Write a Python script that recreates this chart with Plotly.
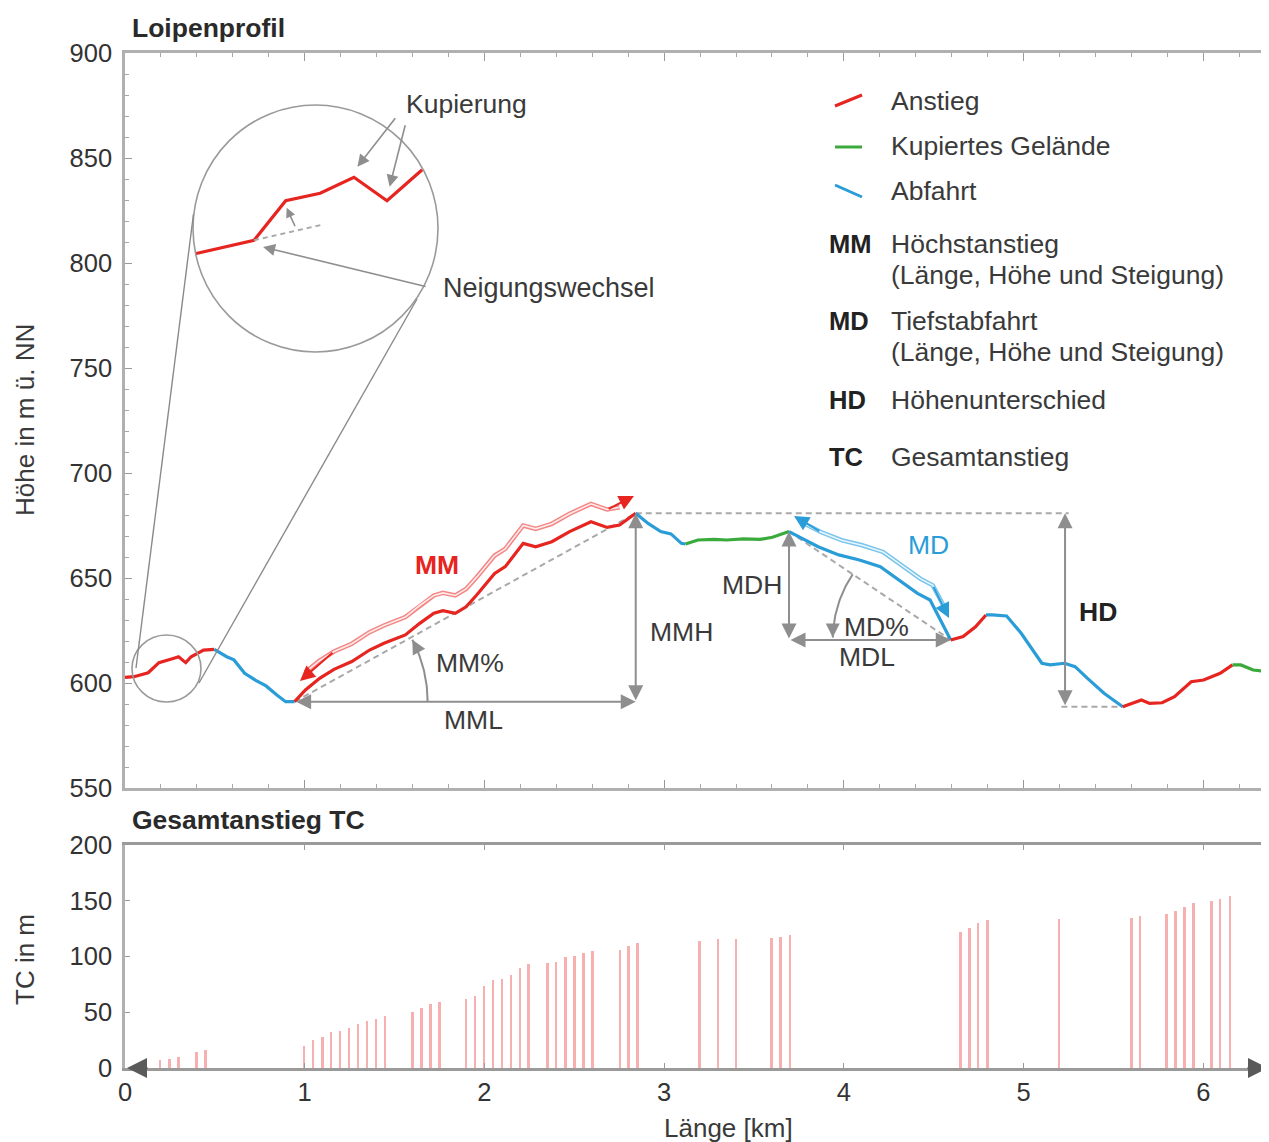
import math
import plotly.graph_objects as go

# ---------------- data ----------------
profile_km = [0.000, 0.050, 0.129, 0.189, 0.268, 0.298, 0.338, 0.368, 0.437, 0.497,
              0.566, 0.606, 0.666, 0.725, 0.785, 0.845, 0.894, 0.944,
              1.004, 1.083, 1.163, 1.262, 1.361, 1.441, 1.560, 1.640, 1.719, 1.769, 1.838, 1.898, 1.957,
              2.057, 2.116, 2.216, 2.285, 2.375, 2.474, 2.593, 2.683, 2.752, 2.842,
              2.911, 2.981, 3.038, 3.096, 3.119,
              3.188, 3.280, 3.349, 3.442, 3.534, 3.603, 3.695,
              3.765, 3.857, 3.972, 4.087, 4.203, 4.318, 4.410, 4.480, 4.549, 4.595,
              4.664, 4.733, 4.791,
              4.826, 4.906, 4.987, 5.102, 5.148, 5.229, 5.287, 5.356, 5.448, 5.552,
              5.610, 5.656, 5.702, 5.771, 5.840, 5.933, 6.002, 6.094, 6.163,
              6.209, 6.278, 6.366]
profile_m = [602.7, 603.0, 604.9, 609.7, 611.7, 612.5, 609.7, 612.5, 615.7, 616.0,
             612.5, 611.0, 604.6, 601.4, 598.6, 594.3, 591.1, 591.1,
             596.7, 602.2, 606.5, 610.2, 615.7, 618.9, 622.9, 628.4, 633.2, 634.4, 633.2, 636.3, 641.9,
             652.2, 655.4, 666.5, 664.9, 667.3, 672.1, 676.8, 674.1, 675.2, 680.8,
             676.0, 672.1, 671.0, 666.5, 666.2,
             668.1, 668.4, 668.1, 668.6, 668.4, 669.4, 672.1,
             668.9, 664.9, 661.0, 658.6, 655.4, 648.3, 642.7, 639.5, 628.4, 620.5,
             622.1, 626.8, 632.4,
             632.4, 631.9, 623.7, 609.4, 608.6, 609.4, 607.8, 602.2, 595.1, 588.7,
             590.6, 591.9, 590.3, 590.6, 593.5, 600.6, 601.4, 604.6, 608.6,
             608.6, 606.2, 605.4]

class_break_km = [0.0, 0.497, 0.944, 2.842, 3.119, 3.695, 4.595, 4.791, 5.552, 6.163, 6.366]
class_name = ["Anstieg", "Abfahrt", "Anstieg", "Abfahrt", "Kupiertes Gelände",
              "Abfahrt", "Anstieg", "Abfahrt", "Anstieg", "Kupiertes Gelände"]

mm_range_km = [0.944, 2.842]   # Höchstanstieg
md_range_km = [3.695, 4.595]   # Tiefstabfahrt
hd_arrow_km = 5.231            # position of the HD arrow

# magnified detail (inset), distance in m / height in m
detail_dist_m = [3, 85, 129, 177, 224, 270, 319]
detail_elev_m = [611.7, 613.3, 618.0, 618.9, 620.8, 618.0, 621.7]

tc_km = [0.197, 0.25, 0.30, 0.40, 0.449,
         0.998, 1.047, 1.101, 1.149, 1.197, 1.248, 1.298, 1.349, 1.399, 1.447,
         1.602, 1.652, 1.701, 1.751,
         1.90, 1.95, 2.0, 2.049, 2.098, 2.148, 2.198, 2.248,
         2.353, 2.401, 2.452, 2.502, 2.552, 2.602,
         2.755, 2.804, 2.854,
         3.199, 3.30, 3.40,
         3.598, 3.648, 3.701,
         4.65, 4.70, 4.749, 4.80,
         5.20,
         5.602, 5.65,
         5.797, 5.848, 5.897, 5.947,
         6.048, 6.095, 6.149]
tc_m = [7.2, 8.1, 9.6, 14.1, 16.1,
        20, 25.1, 27.5, 32, 33.5, 35.6, 39.2, 42.2, 44.2, 46.6,
        50.5, 54.1, 57.1, 58.9,
        61.6, 64.6, 73.5, 78.9, 79.5, 83.4, 90, 93,
        93.9, 95.1, 99.2, 100.8, 102.8, 104.9,
        105.8, 109.4, 111.8,
        114.2, 115.4, 116,
        116.9, 117.8, 119,
        121.7, 125.3, 130.3, 132.7,
        133.3,
        134.8, 136.3,
        138.1, 140.8, 144.7, 148.3,
        149.8, 151.3, 154.6]

x_ticks = [0, 1, 2, 3, 4, 5, 6]

# ---------------- layout geometry (page pixels) ----------------
PAGE_OFF = 8                       # default body margin of the html page
W_FIG, H_FIG = 1269 - PAGE_OFF, 1142 - PAGE_OFF
PLOT_L, PLOT_R, PLOT_T, PLOT_B = 125, 1269, 53, 1068   # plot area in page pixels
PW = PLOT_R - PLOT_L
PH = PLOT_B - PLOT_T
XMAX = 6.366
TOP_Y0_PX, TOP_Y1_PX = 788, 53    # page rows of 550 m / 900 m
BOT_Y0_PX, BOT_Y1_PX = 1068, 845  # page rows of 0 / 200

def X(px):
    return (px - PLOT_L) / PW * XMAX

def Y(py):
    return 550 + (TOP_Y0_PX - py) / (TOP_Y0_PX - TOP_Y1_PX) * 350

def QX(km):
    return PLOT_L + km / XMAX * PW

def QY(m):
    return TOP_Y0_PX - (m - 550) / 350 * (TOP_Y0_PX - TOP_Y1_PX)

def PX(px):
    return (px - PLOT_L) / PW

def PY(py):
    return (PLOT_B - py) / PH

RED = "#e62420"
GREEN = "#3aaa3c"
BLUE = "#2a9dd8"
GRAY = "#8e8e8e"
DASH = "#a9a9a9"
TXT = "#3a3a3a"
FONT = "Liberation Sans, Arial, sans-serif"
COLORS = {"Anstieg": RED, "Kupiertes Gelände": GREEN, "Abfahrt": BLUE}
FS = 26.5    # annotation font size
FS_TICK = 25.5

fig = go.Figure()

def pts_between(a, b):
    xs, ys = [], []
    for k, m in zip(profile_km, profile_m):
        if a - 1e-9 <= k <= b + 1e-9:
            xs.append(k)
            ys.append(m)
    return xs, ys

# ---------- offset (double) lines for MM / MD ----------
def offset_line(a, b, dx, dy, outer, inner, skip_first=1, skip_last=0):
    xs, ys = pts_between(a, b)
    xs = [x + dx for x in xs][skip_first:len(xs) - skip_last]
    ys = [y + dy for y in ys][skip_first:len(ys) - skip_last]
    fig.add_trace(go.Scatter(x=xs, y=ys, mode="lines", line=dict(color=outer, width=4.5),
                             hoverinfo="skip", xaxis="x", yaxis="y"))
    fig.add_trace(go.Scatter(x=xs, y=ys, mode="lines", line=dict(color=inner, width=1.6),
                             hoverinfo="skip", xaxis="x", yaxis="y"))
    return xs, ys

mm_off_x, mm_off_y = offset_line(mm_range_km[0], mm_range_km[1], 0.0, 8.5, "#f38583", "#fdeaea", 1, 1)
md_off_x, md_off_y = offset_line(md_range_km[0], md_range_km[1], 0.015, 7.0, "#79c4ec", "#e8f6fd", 1, 1)

# ---------- profile segments ----------
for i, name in enumerate(class_name):
    xs, ys = pts_between(class_break_km[i], class_break_km[i + 1])
    fig.add_trace(go.Scatter(x=xs, y=ys, mode="lines",
                             line=dict(color=COLORS[name], width=3.2),
                             hoverinfo="skip", xaxis="x", yaxis="y"))

# ---------- arcs (angle markers) ----------
mmx, mmy = pts_between(*mm_range_km)
mdx, mdy = pts_between(*md_range_km)
mm_x0, mm_y0, mm_x1, mm_y1 = mmx[0], mmy[0], mmx[-1], mmy[-1]
md_x0, md_y0, md_x1, md_y1 = mdx[0], mdy[0], mdx[-1], mdy[-1]

def arc(cx_km, cy_m, r_px, th0, th1, n=40):
    cx, cy = QX(cx_km), QY(cy_m)
    xs, ys = [], []
    for j in range(n + 1):
        th = th0 + (th1 - th0) * j / n
        xs.append(X(cx + r_px * math.cos(th)))
        ys.append(Y(cy - r_px * math.sin(th)))
    return xs, ys

ang_mm = math.atan2(QY(mm_y0) - QY(mm_y1), QX(mm_x1) - QX(mm_x0))
ax_, ay_ = arc(mm_x0, mm_y0, 133, 0.0, ang_mm - 0.02)
fig.add_trace(go.Scatter(x=ax_, y=ay_, mode="lines", line=dict(color=GRAY, width=2),
                         hoverinfo="skip", xaxis="x", yaxis="y"))
ang_md = math.pi - math.atan2(QY(md_y1) - QY(md_y0), QX(md_x1) - QX(md_x0))
dx_, dy_ = arc(md_x1, md_y1, 118, ang_md, math.pi - 0.02)
fig.add_trace(go.Scatter(x=dx_, y=dy_, mode="lines", line=dict(color=GRAY, width=2),
                         hoverinfo="skip", xaxis="x", yaxis="y"))

# ---------- inset detail ----------
fig.add_trace(go.Scatter(x=detail_dist_m, y=detail_elev_m, mode="lines",
                         line=dict(color=RED, width=3.2), hoverinfo="skip",
                         xaxis="x3", yaxis="y3"))
slope0 = (detail_elev_m[1] - detail_elev_m[0]) / (detail_dist_m[1] - detail_dist_m[0])
ext_x = [detail_dist_m[1], detail_dist_m[1] + 95]
ext_y = [detail_elev_m[1], detail_elev_m[1] + slope0 * 95]
fig.add_trace(go.Scatter(x=ext_x, y=ext_y, mode="lines",
                         line=dict(color=DASH, width=2, dash="5px,4px"), hoverinfo="skip",
                         xaxis="x3", yaxis="y3"))

# ---------- bars (TC) ----------
fig.add_trace(go.Bar(x=tc_km, y=tc_m, width=0.011, marker=dict(color="#f7b0b0", line=dict(width=0)),
                     hoverinfo="skip", xaxis="x2", yaxis="y2"))

# ---------- shapes ----------
shapes = []
def dline(x0, y0, x1, y1, xref="x", yref="y", color=DASH, width=2, dash="6px,4px", layer="below"):
    shapes.append(dict(type="line", x0=x0, y0=y0, x1=x1, y1=y1, xref=xref, yref=yref,
                       line=dict(color=color, width=width, dash=dash), layer=layer))

dline(mm_x0, mm_y0, mm_x1, mm_y1)
dline(md_x0, md_y0, md_x1, md_y1)
hd_max = max(profile_m[10:])
hd_min_i = min(range(10, len(profile_m)), key=lambda i: profile_m[i])
dline(mm_x1, hd_max, hd_arrow_km + 0.02, hd_max)
dline(hd_arrow_km - 0.02, profile_m[hd_min_i], profile_km[hd_min_i], profile_m[hd_min_i])

# magnifier circles and connecting lines
shapes.append(dict(type="circle", xref="paper", yref="paper",
                   x0=PX(193), x1=PX(438), y0=PY(352), y1=PY(105),
                   line=dict(color="#9a9a9a", width=1.6), layer="above"))
shapes.append(dict(type="circle", xref="paper", yref="paper",
                   x0=PX(132), x1=PX(201), y0=PY(702), y1=PY(635),
                   line=dict(color="#9a9a9a", width=1.6), layer="above"))
dline(PX(136), PY(668), PX(193.5), PY(214), "paper", "paper", "#8a8a8a", 1.4, "solid", "above")
dline(PX(199), PY(683), PX(417), PY(299), "paper", "paper", "#8a8a8a", 1.4, "solid", "above")

# legend samples
dline(PX(835), PY(106), PX(862), PY(95), "paper", "paper", RED, 3, "solid", "above")
dline(PX(835), PY(147), PX(862), PY(147), "paper", "paper", GREEN, 3, "solid", "above")
dline(PX(835), PY(185), PX(862), PY(197), "paper", "paper", BLUE, 3, "solid", "above")

# ---------- annotations ----------
ann = []
def arrow(x, y, ax, ay, xref="x", yref="y", axref=None, ayref=None, color=GRAY,
          width=2, size=1.5, both=False, head=2):
    d = dict(x=x, y=y, ax=ax, ay=ay, xref=xref, yref=yref,
             axref=axref or xref, ayref=ayref or yref, showarrow=True, text="",
             arrowhead=head, arrowsize=size, arrowwidth=width, arrowcolor=color, standoff=0)
    if both:
        d.update(arrowside="end+start", startarrowhead=head, startarrowsize=size, startstandoff=0)
    ann.append(d)

def text(t, x, y, xref="x", yref="y", size=FS, color=TXT, bold=False, xanchor="center",
         yanchor="middle", angle=0):
    ann.append(dict(text=f"<b>{t}</b>" if bold else t, x=x, y=y, xref=xref, yref=yref,
                    showarrow=False, font=dict(family=FONT, size=size, color=color),
                    xanchor=xanchor, yanchor=yanchor, textangle=angle))

arrow(mm_x1, mm_y0, mm_x0, mm_y0, both=True)
arrow(mm_x1, mm_y1, mm_x1, mm_y0, both=True)
arrow(md_x0, md_y0, md_x0, md_y1, both=True)
arrow(md_x1, md_y1, md_x0, md_y1, both=True)
arrow(hd_arrow_km, hd_max, hd_arrow_km, profile_m[hd_min_i], both=True)

arrow(ax_[-1], ay_[-1], 7, 13, axref="pixel", ayref="pixel", size=1.4)
arrow(dx_[-1], dy_[-1], 0, -15, axref="pixel", ayref="pixel", size=1.4)

arrow(X(300), Y(681), mm_off_x[2], mm_off_y[2], color=RED, width=2, size=1.5)
arrow(X(634), Y(496), mm_off_x[-2], mm_off_y[-2], color=RED, width=2, size=1.5)
arrow(X(794), Y(516), md_off_x[1], md_off_y[1], color=BLUE, width=2, size=1.5)
arrow(X(949), Y(618), md_off_x[-2], md_off_y[-2], color=BLUE, width=2, size=1.5)

for i, xs_, ys_, ax0, ay0, sz in [(4, 3.5, 10.6, 39, -50, 1.5), (5, 2.6, 14, 16, -63, 1.5),
                                   (1, 9, -6.7, 164, 40, 1.5), (2, 1, -7, 9, 20, 1.2)]:
    ann.append(dict(x=detail_dist_m[i], y=detail_elev_m[i], xref="x3", yref="y3",
                    xshift=xs_, yshift=ys_, ax=ax0, ay=ay0, axref="pixel", ayref="pixel",
                    showarrow=True, text="", arrowhead=2, arrowsize=sz, arrowwidth=1.6,
                    arrowcolor=GRAY))

ann.append(dict(x=X(127), y=0, xref="x2", yref="y2", ax=22, ay=0, axref="pixel", ayref="pixel",
                showarrow=True, text="", arrowhead=2, arrowsize=2.0, arrowwidth=2, arrowcolor="#5a5a5a"))
ann.append(dict(x=X(1268), y=0, xref="x2", yref="y2", ax=-22, ay=0, axref="pixel", ayref="pixel",
                showarrow=True, text="", arrowhead=2, arrowsize=2.0, arrowwidth=2, arrowcolor="#5a5a5a"))

text("MM", X(437), Y(565), color=RED, bold=True)
text("MM%", X(470), Y(663))
text("MML", X(473), Y(720))
text("MMH", X(681), Y(632))
text("MDH", X(752), Y(585))
text("MD%", X(876), Y(627))
text("MDL", X(867), Y(657))
text("MD", X(928), Y(545), color=BLUE)
text("HD", X(1098), Y(612), bold=True, color="#222")
text("Kupierung", X(466), Y(104))
text("Neigungswechsel", X(441), Y(288), xanchor="left", size=27)

text("Anstieg", PX(889), PY(101), "paper", "paper", xanchor="left")
text("Kupiertes Gelände", PX(889), PY(146), "paper", "paper", xanchor="left")
text("Abfahrt", PX(889), PY(191), "paper", "paper", xanchor="left")
for abbr, line1, line2, yy in [("MM", "Höchstanstieg", "(Länge, Höhe und Steigung)", 244),
                               ("MD", "Tiefstabfahrt", "(Länge, Höhe und Steigung)", 321),
                               ("HD", "Höhenunterschied", None, 400),
                               ("TC", "Gesamtanstieg", None, 457)]:
    text(abbr, PX(827), PY(yy), "paper", "paper", bold=True, color="#222", xanchor="left", size=25.5)
    text(line1, PX(889), PY(yy), "paper", "paper", xanchor="left")
    if line2:
        text(line2, PX(889), PY(yy + 31), "paper", "paper", xanchor="left")

text("Loipenprofil", PX(130), PY(28), "paper", "paper", bold=True, color="#2a2a2a",
     xanchor="left", size=26.5)
text("Gesamtanstieg TC", PX(130), PY(820), "paper", "paper", bold=True, color="#2a2a2a",
     xanchor="left", size=26.5)
text("Höhe in m ü. NN", PX(25), PY(420), "paper", "paper", size=26, angle=-90)
text("TC in m", PX(25), PY(960), "paper", "paper", size=26, angle=-90)
text("Länge [km]", PX(728), PY(1128), "paper", "paper", size=26)

# ---------- axes ----------
axis_common = dict(showgrid=False, zeroline=False, showline=True, linecolor="#b0b0b0",
                   linewidth=2.5, ticks="inside", tickcolor="#9a9a9a",
                   tickfont=dict(family=FONT, size=FS_TICK, color="#333"))
top_dom = [(PLOT_B - TOP_Y0_PX) / PH, 1.0]
bot_dom = [0.0, (PLOT_B - BOT_Y1_PX) / PH]

fig.update_layout(
    width=W_FIG, height=H_FIG,
    margin=dict(l=PLOT_L - PAGE_OFF, r=0, t=PLOT_T - PAGE_OFF,
                b=(H_FIG + PAGE_OFF) - PLOT_B, pad=0),
    plot_bgcolor="white", paper_bgcolor="white",
    showlegend=False, bargap=0,
    font=dict(family=FONT, color=TXT),
    xaxis=dict(axis_common, domain=[0, 1], anchor="y", range=[0, XMAX], showticklabels=False,
               tickvals=x_ticks, ticklen=8, mirror="ticks",
               minor=dict(dtick=0.2, tick0=0, ticks="inside", ticklen=4, tickcolor="#a8a8a8")),
    yaxis=dict(axis_common, domain=top_dom, anchor="x", range=[550, 900], dtick=50, tick0=550,
               ticklen=7, ticklabelstandoff=5,
               minor=dict(dtick=10, tick0=550, ticks="inside", ticklen=4, tickcolor="#a8a8a8")),
    xaxis2=dict(axis_common, domain=[0, 1], anchor="y2", range=[0, XMAX], tickvals=x_ticks,
                ticktext=[str(v) for v in x_ticks], ticklen=5, mirror="ticks", linecolor="#9a9a9a"),
    yaxis2=dict(axis_common, domain=bot_dom, anchor="x2", range=[0, 200], dtick=50, ticklen=5,
                ticklabelstandoff=5),
    xaxis3=dict(domain=[PX(193), PX(438)], anchor="y3", range=[0, 341], visible=False, fixedrange=True),
    yaxis3=dict(domain=[PY(352), PY(105)], anchor="x3", range=[600, 629.4], visible=False, fixedrange=True),
    shapes=shapes,
    annotations=ann,
)

fig.write_html("out.html")
